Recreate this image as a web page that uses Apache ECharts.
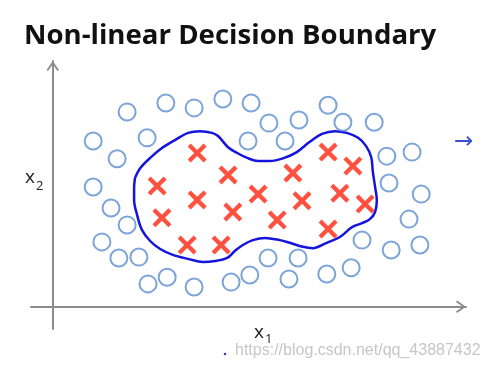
<!DOCTYPE html>
<html><head><meta charset="utf-8">
<script src="https://cdn.jsdelivr.net/npm/echarts@6/dist/echarts.min.js"></script>
<style>html,body{margin:0;padding:0;background:#fff}#c{width:488px;height:369px}</style>
</head><body><div id="c"></div>
<script>
const titleText = 'Non-linear Decision Boundary';
const xAxisName = ['x', '1'];
const yAxisName = ['x', '2'];
const watermark = 'https://blog.csdn.net/qq_43887432';
const xRange = [-0.5, 9.5];
const yRange = [-0.5, 5.5];

// negative examples (circles)
const negX = [1.71,2.60,3.25,3.91,4.56,4.97,5.66,6.33,6.67,7.39,0.93,2.17,4.49,5.34,1.48,7.68,8.26,0.93,7.73,8.47,1.34,8.19,1.71,1.13,7.11,7.78,8.44,1.52,1.98,4.95,5.64,2.19,2.63,3.25,4.10,4.53,5.43,6.30,6.86];
const negY = [4.36,4.56,4.45,4.65,4.56,4.11,4.18,4.51,4.13,4.13,3.71,3.78,3.71,3.71,3.31,3.37,3.46,2.68,2.77,2.52,2.21,1.96,1.83,1.45,1.49,1.27,1.38,1.09,1.11,1.09,1.09,0.51,0.66,0.44,0.55,0.71,0.62,0.73,0.87];

// positive examples (crosses)
const posX = [3.32,6.33,6.90,4.03,5.52,2.40,4.72,6.60,3.32,5.73,7.18,4.14,2.51,5.16,6.33,3.09,3.87];
const posY = [3.44,3.46,3.15,2.95,2.99,2.70,2.52,2.54,2.39,2.37,2.30,2.12,1.99,1.94,1.74,1.38,1.38];

// hand-drawn decision boundary
const boundaryX = [1.89,2.01,2.24,2.51,2.81,3.11,3.39,3.66,3.80,4.03,4.24,4.47,4.72,4.99,5.32,5.61,5.91,6.19,6.49,6.76,7.02,7.20,7.32,7.36,7.41,7.45,7.41,7.29,7.11,6.88,6.60,6.30,5.98,5.75,5.45,5.22,4.88,4.60,4.37,4.19,4.01,3.73,3.45,3.11,2.76,2.47,2.24,2.05,1.94,1.87,1.87,1.89];
const boundaryY = [2.88,3.10,3.33,3.55,3.73,3.89,3.93,3.89,3.82,3.57,3.44,3.33,3.26,3.26,3.33,3.46,3.69,3.87,3.93,3.89,3.78,3.60,3.35,3.01,2.68,2.39,2.12,1.96,1.87,1.78,1.56,1.43,1.31,1.34,1.43,1.49,1.54,1.49,1.38,1.25,1.09,1.02,1.00,1.07,1.16,1.29,1.47,1.72,2.05,2.39,2.66,2.88];

const zip = (a, b) => a.map((v, i) => [v, b[i]]);
const chevron = 'path://M0,10 L7,0 L14,10 L12.3,11.2 L7,3.6 L1.7,11.2 Z';
const axisGray = '#8c8c8c';
const axisCommon = {
  axisTick: {show: false}, axisLabel: {show: false}, splitLine: {show: false}
};

const chart = echarts.init(document.getElementById('c'), null, {renderer: 'canvas'});
chart.setOption({
  animation: false,
  backgroundColor: '#ffffff',
  grid: {left: 31, right: 22, top: 61, bottom: 40, containLabel: false},
  xAxis: Object.assign({
    type: 'value', min: xRange[0], max: xRange[1],
    axisLine: {show: true, onZero: true, symbol: ['none', chevron], symbolSize: [14, 10], symbolOffset: [0, -5],
      lineStyle: {color: axisGray, width: 2}}
  }, axisCommon),
  yAxis: Object.assign({
    type: 'value', min: yRange[0], max: yRange[1],
    axisLine: {show: true, onZero: true, symbol: ['none', chevron], symbolSize: [15, 10], symbolOffset: [0, -5],
      lineStyle: {color: axisGray, width: 2}}
  }, axisCommon),
  graphic: [
    {type: 'text', left: 24, top: 22, style: {text: titleText, font: 'bold 27.6px "Open Sans"', fill: '#111'}},
    {type: 'text', x: 25, y: 178, style: {text: yAxisName[0], font: '19px "Open Sans"', fill: '#222', verticalAlign: 'middle'}},
    {type: 'text', x: 36, y: 186, style: {text: yAxisName[1], font: '13px "Open Sans"', fill: '#222', verticalAlign: 'middle'}},
    {type: 'text', x: 254, y: 333, style: {text: xAxisName[0], font: '19px "Open Sans"', fill: '#222', verticalAlign: 'middle'}},
    {type: 'text', x: 265, y: 339, style: {text: xAxisName[1], font: '13px "Open Sans"', fill: '#222', verticalAlign: 'middle'}},
    {type: 'text', x: 235, y: 351, style: {text: watermark, font: '16px "Liberation Sans"', fill: '#c6c6c6', verticalAlign: 'middle'}},
    {type: 'circle', shape: {cx: 225, cy: 354, r: 1.3}, style: {fill: '#3040c0'}},
    {type: 'text', x: 454, y: 142, style: {text: '\u2192', font: '23px "DejaVu Sans"', fill: '#3a4fd0', verticalAlign: 'middle'}}
  ],
  series: [
    {
      type: 'line', data: zip(boundaryX, boundaryY), smooth: 0.35, symbol: 'none',
      lineStyle: {color: '#1414dc', width: 2.5}, z: 2
    },
    {
      type: 'scatter', data: zip(negX, negY), symbol: 'circle', symbolSize: 17,
      itemStyle: {color: 'rgba(255,255,255,0)', borderColor: '#5b8dcf', borderWidth: 2}, z: 3
    },
    {
      type: 'scatter', data: zip(posX, posY), symbolSize: 19,
      symbol: 'path://M3.2,0 L10,6.8 L16.8,0 L20,3.2 L13.2,10 L20,16.8 L16.8,20 L10,13.2 L3.2,20 L0,16.8 L6.8,10 L0,3.2 Z',
      itemStyle: {color: '#ff2410'}, z: 4
    }
  ]
});
</script></body></html>
